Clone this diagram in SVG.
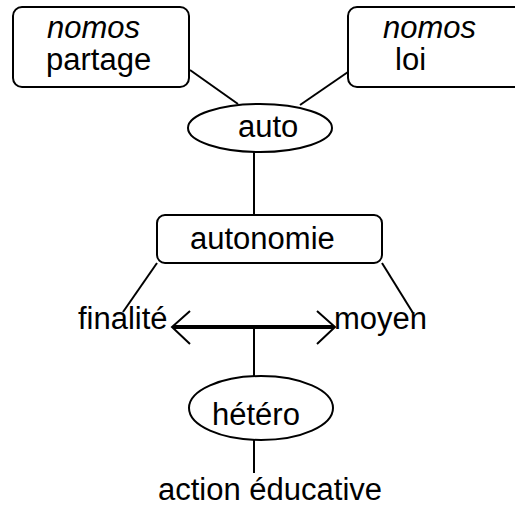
<svg xmlns="http://www.w3.org/2000/svg" width="515" height="508" viewBox="0 0 515 508">
<style>
text{font-family:"Liberation Sans",Arial,sans-serif;font-size:31px;fill:#000}
.it{font-style:italic}
.box{fill:#fff;stroke:#000;stroke-width:2}
.ln{stroke:#000;stroke-width:2;fill:none}
</style>
<rect width="515" height="508" fill="#fff"/>
<g id="connectors">
<line class="ln" x1="190" y1="70" x2="238" y2="104"/>
<line class="ln" x1="348" y1="72" x2="300" y2="105"/>
<line class="ln" x1="254" y1="152" x2="254" y2="215"/>
<line class="ln" x1="157" y1="263" x2="123" y2="312"/>
<line class="ln" x1="382" y1="263" x2="413" y2="313"/>
<line class="ln" x1="254" y1="327" x2="254" y2="376"/>
<line class="ln" x1="254" y1="440" x2="254" y2="473"/>
</g>
<g id="partage">
<rect class="box" x="13" y="7" width="176" height="80" rx="9"/>
<text class="it" x="47" y="38">nomos</text>
<text x="46" y="70">partage</text>
</g>
<g id="loi">
<rect class="box" x="348" y="7" width="180" height="80" rx="9"/>
<text class="it" x="383" y="38">nomos</text>
<text x="395" y="70">loi</text>
</g>
<g id="auto">
<ellipse class="box" cx="260" cy="128" rx="72" ry="24"/>
<text x="238" y="137">auto</text>
</g>
<g id="autonomie">
<rect class="box" x="157" y="215" width="225" height="48" rx="8"/>
<text x="190" y="249">autonomie</text>
</g>
<g id="finalite">
<text x="78" y="329">finalité</text>
</g>
<g id="moyen">
<text x="334" y="329">moyen</text>
</g>
<g id="arrow">
<line x1="173" y1="327" x2="334" y2="327" stroke="#000" stroke-width="4"/>
<polyline class="ln" points="190,311 172,327 190,344" stroke-width="2.5"/>
<polyline class="ln" points="317,311 335,327 317,344" stroke-width="2.5"/>
</g>
<g id="hetero">
<ellipse class="box" cx="261" cy="408" rx="72" ry="32"/>
<text x="212" y="425">hétéro</text>
</g>
<g id="action">
<text x="158" y="500">action éducative</text>
</g>
</svg>
